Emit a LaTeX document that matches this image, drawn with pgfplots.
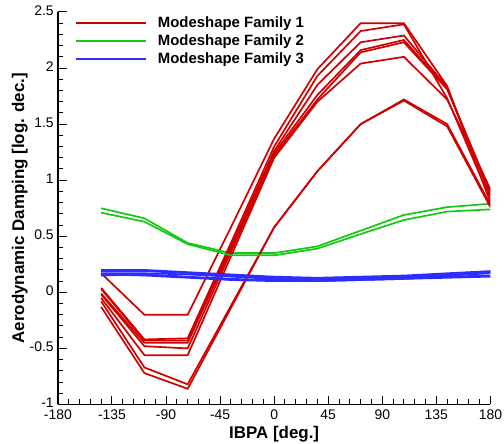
\documentclass[border=0pt]{standalone}
\usepackage{pgfplots}
\pgfplotsset{compat=1.18}
\usepackage{fontspec}
\setmainfont{Liberation Sans}

\definecolor{famred}{RGB}{208,0,0}
\definecolor{famgreen}{RGB}{20,200,20}
\definecolor{famblue}{RGB}{45,45,255}

\begin{document}
\begin{tikzpicture}
\begin{axis}[
  name=ax,
  scale only axis,
  width=433bp, height=393bp,
  xmin=-180, xmax=180, ymin=-1, ymax=2.5,
  axis x line=bottom, axis y line=left,
  axis line style={-, line width=1.4bp},
  tick align=inside,
  xtick={-180,-135,...,180},
  ytick={-1,-0.5,...,2.5},
  minor x tick num=4, minor y tick num=4,
  major tick length=9bp, minor tick length=5.5bp,
  every tick/.style={black, line width=1bp},
  /pgf/number format/assume math mode=true,
  tick label style={font=\fontsize{14}{16}\selectfont},
  xticklabel style={yshift=-3bp, inner sep=2bp},
  yticklabel style={xshift=-2bp, yshift=1.5bp, inner sep=2bp},
  xlabel={\textbf{IBPA [deg.]}},
  ylabel={\textbf{Aerodynamic Damping [log. dec.]}},
  label style={font=\fontsize{17}{19}\selectfont, inner sep=0pt},
  xlabel style={at={([yshift=-22bp]axis description cs:0.5,0)}, anchor=north},
  ylabel style={at={([xshift=-30bp]axis description cs:0,0.5)}, anchor=south},
  legend cell align=left,
  legend style={draw=none, fill=none, inner sep=0pt,
    at={([xshift=17bp,yshift=-3.5bp]axis description cs:0,1)}, anchor=north west,
    font=\fontsize{15}{17}\selectfont\bfseries, row sep=2.6bp, column sep=10bp,
    nodes={inner sep=1.5bp}},
  legend image post style={xscale=4.1},
]
% Modeshape family 1
\addplot[famred, line width=1.7bp] coordinates {(-144,0.17) (-108,-0.20) (-72,-0.20) (-36,0.58) (0,1.37) (36,1.99) (72,2.40) (108,2.40) (144,1.84) (180,0.80)};
\addlegendentry{Modeshape Family 1}
% Modeshape family 2
\addplot[famgreen, line width=1.7bp] coordinates {(-144,0.75) (-108,0.66) (-72,0.44) (-36,0.35) (0,0.35) (36,0.41) (72,0.55) (108,0.69) (144,0.76) (180,0.79)};
\addlegendentry{Modeshape Family 2}
% Modeshape family 3
\addplot[famblue, line width=1.7bp] coordinates {(-144,0.20) (-108,0.20) (-72,0.18) (-36,0.16) (0,0.14) (36,0.13) (72,0.14) (108,0.15) (144,0.17) (180,0.19)};
\addlegendentry{Modeshape Family 3}

\addplot[famred, line width=1.7bp, forget plot] coordinates {(-144,0.04) (-108,-0.42) (-72,-0.41) (-36,0.44) (0,1.30) (36,1.93) (72,2.33) (108,2.39) (144,1.73) (180,0.83)};
\addplot[famred, line width=1.7bp, forget plot] coordinates {(-144,0.03) (-108,-0.43) (-72,-0.43) (-36,0.41) (0,1.26) (36,1.85) (72,2.23) (108,2.29) (144,1.83) (180,0.86)};
\addplot[famred, line width=1.7bp, forget plot] coordinates {(-144,-0.01) (-108,-0.45) (-72,-0.45) (-36,0.39) (0,1.24) (36,1.76) (72,2.16) (108,2.25) (144,1.82) (180,0.88)};
\addplot[famred, line width=1.7bp, forget plot] coordinates {(-144,-0.02) (-108,-0.48) (-72,-0.50) (-36,0.36) (0,1.22) (36,1.72) (72,2.14) (108,2.23) (144,1.81) (180,0.90)};
\addplot[famred, line width=1.7bp, forget plot] coordinates {(-144,-0.05) (-108,-0.56) (-72,-0.56) (-36,0.32) (0,1.20) (36,1.70) (72,2.04) (108,2.10) (144,1.72) (180,0.92)};
\addplot[famred, line width=1.7bp, forget plot] coordinates {(-144,-0.08) (-108,-0.67) (-72,-0.82) (-36,-0.12) (0,0.58) (36,1.08) (72,1.50) (108,1.72) (144,1.50) (180,0.78)};
\addplot[famred, line width=1.7bp, forget plot] coordinates {(-144,-0.13) (-108,-0.72) (-72,-0.86) (-36,-0.14) (0,0.58) (36,1.08) (72,1.50) (108,1.71) (144,1.48) (180,0.76)};

\addplot[famgreen, line width=1.7bp, forget plot] coordinates {(-144,0.71) (-108,0.63) (-72,0.43) (-36,0.33) (0,0.33) (36,0.39) (72,0.52) (108,0.645) (144,0.72) (180,0.74)};

\addplot[famblue, line width=1.7bp, forget plot] coordinates {(-144,0.19) (-108,0.19) (-72,0.17) (-36,0.15) (0,0.13) (36,0.12) (72,0.13) (108,0.14) (144,0.16) (180,0.18)};
\addplot[famblue, line width=1.7bp, forget plot] coordinates {(-144,0.17) (-108,0.17) (-72,0.16) (-36,0.14) (0,0.12) (36,0.115) (72,0.12) (108,0.13) (144,0.15) (180,0.17)};
\addplot[famblue, line width=1.7bp, forget plot] coordinates {(-144,0.15) (-108,0.16) (-72,0.14) (-36,0.12) (0,0.11) (36,0.10) (72,0.11) (108,0.12) (144,0.14) (180,0.15)};
\addplot[famblue, line width=1.7bp, forget plot] coordinates {(-144,0.16) (-108,0.15) (-72,0.13) (-36,0.11) (0,0.10) (36,0.10) (72,0.11) (108,0.12) (144,0.13) (180,0.14)};
\end{axis}
% page margins around the axis box
\path ([xshift=-58bp,yshift=-39bp]ax.south west) ([xshift=13bp,yshift=12bp]ax.north east);
\end{tikzpicture}
\end{document}
